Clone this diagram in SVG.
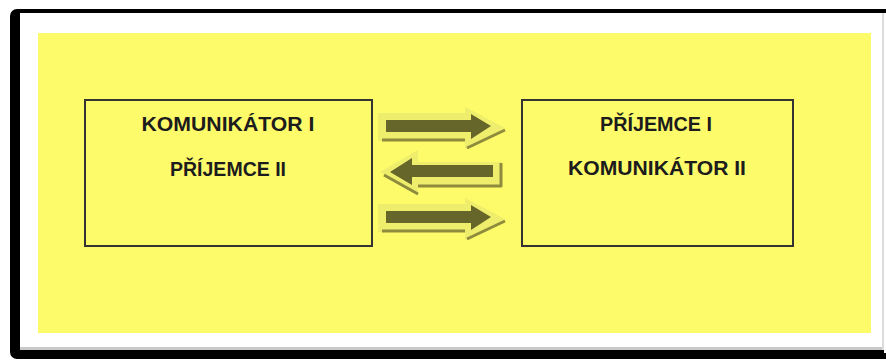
<svg xmlns="http://www.w3.org/2000/svg" width="886" height="360" viewBox="0 0 886 360">
  <defs>
    <style>
      .lbl { font-family: "Liberation Sans", Arial, sans-serif; font-weight: bold; font-size: 19.5px; fill: #1c1c1c; text-anchor: middle; }
      .box { fill: #fefb6b; stroke: #333333; stroke-width: 2; }
      .aout { fill: #eeed6c; }
      .ashadow { fill: none; stroke: #8e8c3c; stroke-width: 3; stroke-linejoin: round; }
      .ain { fill: #67662a; }
    </style>
    <g id="arrowR">
      <path class="aout" d="M378,113 L465,113 L465,107 L505,128 L465,149 L465,141 L378,141 Z"/>
      <path class="ashadow" d="M382,140 L465,140 M505,130 L467,148"/>
      <path class="ain" d="M386,120 L471,120 L471,114 L491,126 L471,139 L471,132 L386,132 Z"/>
    </g>
  </defs>
  <rect x="0" y="0" width="886" height="360" fill="#ffffff"/>
  <rect x="10" y="9" width="900" height="350" rx="7" fill="#000000"/>
  <rect x="20" y="13" width="866" height="337" fill="#ffffff"/>
  <rect x="20" y="347" width="866" height="3" fill="#c8c8c8"/>
  <rect x="882" y="13" width="2" height="337" fill="#dcdcdc"/>
  <rect x="884" y="13" width="2" height="340" fill="#ffffff"/>
  <rect x="38" y="33" width="833" height="300" fill="#fefb6b"/>

  <g id="node-left">
    <rect class="box" x="85" y="100" width="287" height="146"/>
    <text class="lbl" x="228" y="131" textLength="173" lengthAdjust="spacingAndGlyphs">KOMUNIKÁTOR I</text>
    <text class="lbl" x="228" y="176" textLength="116" lengthAdjust="spacingAndGlyphs">PŘÍJEMCE II</text>
  </g>
  <g id="node-right">
    <rect class="box" x="522" y="100" width="271" height="146"/>
    <text class="lbl" x="656" y="131" textLength="112" lengthAdjust="spacingAndGlyphs">PŘÍJEMCE I</text>
    <text class="lbl" x="657" y="175" textLength="178" lengthAdjust="spacingAndGlyphs">KOMUNIKÁTOR II</text>
  </g>

  <g id="connectors">
    <use href="#arrowR"/>
    <g id="arrowL">
      <path class="aout" d="M380,172 L418,150 L418,162 L502,162 L502,185 L418,185 L418,195 Z"/>
      <path class="ashadow" d="M501,163 L501,186 L418,186 M418,194 L384,175"/>
      <path class="ain" d="M390,172 L412,158 L412,165 L493,165 L493,177 L412,177 L412,185 Z"/>
    </g>
    <use href="#arrowR" transform="translate(0,91)"/>
  </g>
</svg>
